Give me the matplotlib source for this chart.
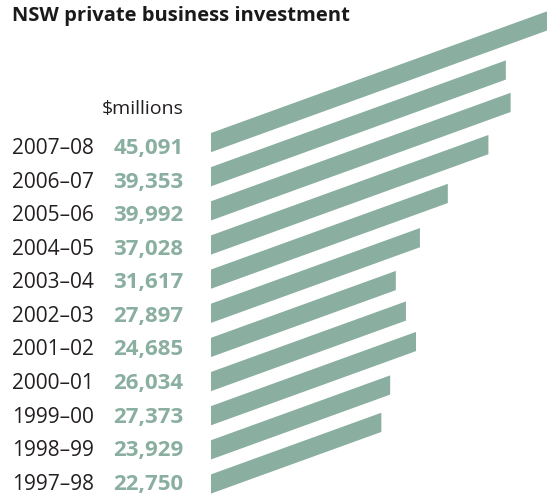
import numpy as np
import matplotlib
matplotlib.use("Agg")
import matplotlib.pyplot as plt
from matplotlib.transforms import Affine2D, blended_transform_factory

# Data: NSW private business investment, $ millions
years = ["2007\u201308", "2006\u201307", "2005\u201306", "2004\u201305", "2003\u201304",
         "2002\u201303", "2001\u201302", "2000\u201301", "1999\u201300", "1998\u201399",
         "1997\u201398"]
values = [45091, 39353, 39992, 37028, 31617, 27897, 24685, 26034, 27373, 23929, 22750]
unit_label = "$millions"
title = "NSW private business investment"

GREEN = "#8aafa0"
DARK = "#231f20"
FONT = "Open Sans"

W, H, DPI = 547, 497, 100
fig = plt.figure(figsize=(W / DPI, H / DPI), dpi=DPI)

rows = np.arange(len(values))

# ---- bar panel: x in $m, y in row units (inverted) ----
bar_left_px = 210.7
px_per_unit = 0.0075          # horizontal pixels per $m
row_px = 34.14                # vertical pitch of bars
first_bottom_px = 152.3       # bottom-left corner of the first bar
bar_h_rows = 19.2 / row_px    # vertical thickness of each band
slope_px = 0.362              # rise of the bands (pixels per pixel)

ax = fig.add_axes([bar_left_px / W, 0, 1 - bar_left_px / W, 1])
ax.set_xlim(0, (W - bar_left_px) / px_per_unit)
ax.set_ylim((H - first_bottom_px) / row_px, -first_bottom_px / row_px)
ax.axis("off")

bars = ax.barh(rows - bar_h_rows / 2, values, height=bar_h_rows, left=0,
               color=GREEN, linewidth=0)
# slant each band upward to the right
shear = -slope_px * px_per_unit / row_px
skew = Affine2D().skew(0, np.arctan(shear))
for b in bars:
    b.set_transform(skew + ax.transData)

# ---- label panel ----
axt = fig.add_axes([0, 0, bar_left_px / W, 1])
txt_row_px = 33.58
first_base_px = 154.0
axt.set_ylim((H - first_base_px) / txt_row_px, -first_base_px / txt_row_px)
axt.set_xlim(0, 1)
axt.axis("off")
tr = blended_transform_factory(axt.transAxes, axt.transData)

x_year = 12 / bar_left_px
x_val = 183.5 / bar_left_px
for r, yr, v in zip(rows, years, values):
    axt.text(x_year, r, yr, transform=tr, ha="left", va="baseline",
             fontsize=15, color=DARK, family=FONT)
    axt.text(x_val, r, f"{v:,}", transform=tr, ha="right", va="baseline",
             fontsize=16, fontweight="bold", color=GREEN, family=FONT)

axt.text(x_val, (114.5 - first_base_px) / txt_row_px, unit_label, transform=tr,
         ha="right", va="baseline", fontsize=14, color=DARK, family=FONT)

fig.text(12 / W, 1 - 21 / H, title, ha="left", va="baseline",
         fontsize=14.5, fontweight="bold", color="#1a1a1a", family=FONT)

fig.savefig("out.png", dpi=DPI)
